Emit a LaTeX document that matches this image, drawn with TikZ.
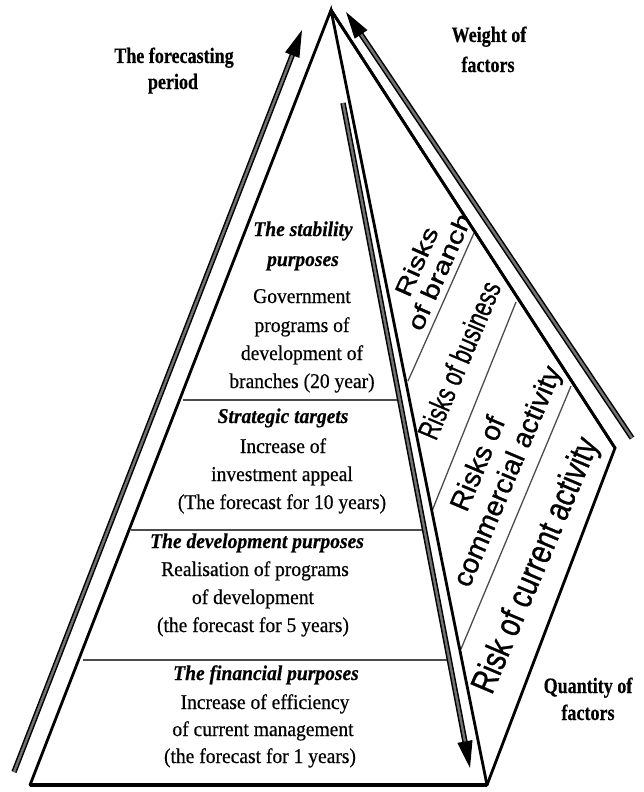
\documentclass[tikz,border=0pt]{standalone}
\usepackage{fontspec}
\setmainfont{Liberation Serif}
\setsansfont{Liberation Sans}
\newfontfamily\labelfont[FakeStretch=0.82, FakeBold=0.4]{Liberation Serif}
\newfontfamily\bodyfont[FakeStretch=0.93, FakeBold=0.5]{Liberation Serif}
\newfontfamily\riskfont[FakeBold=0.9]{Liberation Sans}
\usetikzlibrary{arrows.meta}

\tikzset{
  edge/.style={line width=2.8pt, line join=miter, line cap=round},
  baseline rule/.style={line width=4pt},
  divider/.style={line width=1.3pt, draw=black!70},
  hatcharrow/.style={draw=black, line width=1.5pt, double=black!55,
    double distance=2.4pt, -{Triangle[length=27pt 0 0, width=15pt 0 0]}},
  bodytext/.style={inner sep=0pt, anchor=base,
    font=\fontsize{21}{24}\selectfont\bodyfont},
  headtext/.style={bodytext, font=\fontsize{21}{24}\selectfont\bodyfont\bfseries\itshape},
  labeltext/.style={inner sep=0pt, anchor=base,
    font=\fontsize{22}{26}\selectfont\labelfont\bfseries},
  risktext/.style={inner sep=0pt, font=\riskfont},
}

\begin{document}
\begin{tikzpicture}[x=1pt, y=-1pt]
  \useasboundingbox (0,0) rectangle (644,792);

  % corner points of the two faces
  \coordinate (A) at (331,10);
  \coordinate (L) at (30,785);
  \coordinate (B) at (487,785);
  \coordinate (C) at (615,448);

  % arrow end points
  \coordinate (fpS) at (14,772);
  \coordinate (fpE) at (302,30);
  \coordinate (wfS) at (632,438);
  \coordinate (wfE) at (346,12);
  \coordinate (dnS) at (343,103);
  \coordinate (dnE) at (470,768);

  % level separators of the front face
  \draw[divider] (183,400) -- (398,400);
  \draw[divider] (131,530) -- (425,530);
  \draw[divider] (83,660) -- (450,660);

  % separators of the side face
  \draw[divider] (408,381) -- (474,233);
  \draw[divider] (432,511) -- (516,302);
  \draw[divider] (461,649) -- (571,386);

  % front face
  \draw[edge] (L) -- (A) -- (B);
  \draw[baseline rule] (L) -- (B);
  % side face
  \draw[edge] (A) -- (C) -- (B);

  % arrows
  \draw[hatcharrow] (fpS) -- (fpE);
  \draw[hatcharrow] (wfS) -- (wfE);
  \draw[hatcharrow] (dnS) -- (dnE);

  % axis labels
  \node[labeltext] (fpa) at (174,63) {The forecasting};
  \node[labeltext] (fpb) at (173,89) {period};
  \node[labeltext] (wfa) at (489,42) {Weight of};
  \node[labeltext] (wfb) at (488,72) {factors};
  \node[labeltext] (qfa) at (588,693) {Quantity of};
  \node[labeltext] (qfb) at (588,720) {factors};

  % level 1
  \node[headtext] (s1) at (303,236) {The stability};
  \node[headtext] (s2) at (303,266) {purposes};
  \node[bodytext] (s3) at (302,303) {Government};
  \node[bodytext] (s4) at (302,332) {programs of};
  \node[bodytext] (s5) at (302,360) {development of};
  \node[bodytext] (s6) at (302,388) {branches (20 year)};

  % level 2
  \node[headtext] (t1) at (283,423) {Strategic targets};
  \node[bodytext] (t2) at (283,453) {Increase of};
  \node[bodytext] (t3) at (282,481) {investment appeal};
  \node[bodytext] (t4) at (282,509) {(The forecast for 10 years)};

  % level 3
  \node[headtext] (d1) at (257,548) {The development purposes};
  \node[bodytext] (d2) at (255,576) {Realisation of programs};
  \node[bodytext] (d3) at (253,604) {of development};
  \node[bodytext] (d4) at (253,632) {(the forecast for 5 years)};

  % level 4
  \node[headtext] (f1) at (266,680) {The financial purposes};
  \node[bodytext] (f2) at (265,709) {Increase of efficiency};
  \node[bodytext] (f3) at (263,736) {of current management};
  \node[bodytext] (f4) at (260,763) {(the forecast for 1 years)};

  % risk bands of the side face, cut off by the face outline
  \begin{scope}
    \clip (A) -- (C) -- (B) -- cycle;
    \node[risktext, rotate=66] (r1) at (431,268)
      {\scalebox{1.25}[1]{\fontsize{24}{25}\selectfont
       \begin{tabular}{@{}c@{}}Risks\\of branch\end{tabular}}};
    \node[risktext, rotate=67] (r2) at (459,360)
      {\scalebox{0.72}[1]{\fontsize{30}{30}\selectfont Risks of business}};
    \node[risktext, rotate=67] (r3) at (495,471)
      {\scalebox{1.0}[1]{\fontsize{28}{32}\selectfont
       \begin{tabular}{@{}c@{}}Risks of\\commercial activity\end{tabular}}};
    \node[risktext, rotate=67] (r4) at (537,566)
      {\scalebox{0.8}[1]{\fontsize{35}{36}\selectfont Risk of current activity}};
  \end{scope}
  % outline redrawn over the clipped band texts
  \draw[edge] (A) -- (C);
\end{tikzpicture}
\end{document}
